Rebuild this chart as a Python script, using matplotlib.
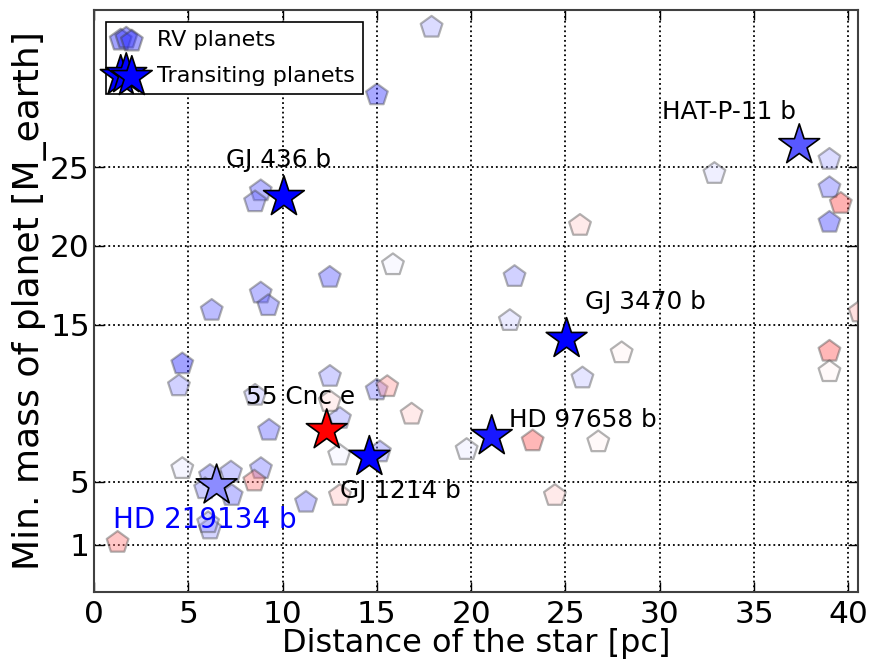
import numpy as np
import matplotlib
matplotlib.use('Agg')
import matplotlib.pyplot as plt
from matplotlib.colors import Normalize

# RV planets: distance [pc], min. mass [M_earth], colour value (-1 blue .. +1 red)
rv_dist = [17.9, 15.0, 8.84, 8.54, 6.24, 8.84, 9.24, 12.5, 15.85, 22.3,
           22.05, 27.98, 25.9, 32.9, 25.77, 39.0, 39.0, 39.6, 39.0, 39.0,
           39.0, 40.6, 23.26, 26.74, 24.44, 19.76, 16.84, 14.99, 15.55, 12.51,
           12.5, 13.04, 13.0, 15.16, 13.04, 11.24, 4.68, 4.5, 9.28, 4.68,
           6.15, 7.26, 8.85, 8.5, 7.3, 5.89, 6.15, 6.05, 1.25, 8.54]
rv_mass = [33.9, 29.6, 23.5, 22.8, 15.9, 17.0, 16.2, 18.0, 18.8, 18.05,
           15.25, 13.2, 11.6, 24.6, 21.3, 25.5, 23.7, 22.7, 21.5, 13.3,
           12.0, 15.8, 7.6, 7.54, 4.13, 7.05, 9.3, 10.84, 11.05, 11.7,
           10.1, 9.03, 6.7, 6.9, 4.13, 3.7, 12.5, 11.1, 8.28, 5.84,
           5.4, 5.62, 5.84, 5.05, 4.13, 4.56, 2.0, 2.4, 1.15, 10.5]
rv_color = [-0.35, -0.85, -0.7, -0.6, -0.65, -0.65, -0.65, -0.7, -0.05, -0.45,
            -0.2, 0.05, -0.25, -0.15, 0.2, -0.35, -0.6, 0.75, -0.8, 0.7,
            0.05, 0.3, 0.7, 0.05, 0.2, -0.1, 0.2, -0.55, 0.4, -0.45,
            0.15, -0.45, -0.05, -0.5, 0.25, -0.55, -0.9, -0.45, -0.65, -0.1,
            -0.6, -0.5, -0.55, 0.55, -0.6, -0.5, -0.4, -0.4, 0.55, -0.3]

# Transiting planets
tr_names = ['GJ 436 b', 'HAT-P-11 b', 'GJ 3470 b', 'HD 97658 b',
            '55 Cnc e', 'GJ 1214 b', 'HD 219134 b']
tr_dist = [10.07, 37.4, 25.06, 21.09, 12.34, 14.6, 6.5]
tr_mass = [23.1, 26.4, 14.08, 7.9, 8.28, 6.58, 4.77]
tr_color = [-1.0, -0.65, -1.0, -0.9, 1.0, -1.0, -0.45]

# label anchor (left, baseline) in data units
label_x = [7.0, 30.1, 26.03, 22.02, 8.04, 13.04, 1.0]
label_y = [25.0, 28.1, 16.0, 8.5, 9.95, 3.96, 2.1]
label_col = ['black', 'black', 'black', 'black', 'black', 'black', 'blue']
label_size = [17.8, 17.8, 17.8, 17.8, 17.8, 17.8, 20]

x_ticks = [0, 5, 10, 15, 20, 25, 30, 35, 40]
y_ticks = [1, 5, 15, 20, 25]

fig = plt.figure(figsize=(8.74, 6.63), dpi=100)
ax = fig.add_axes([0.1076, 0.1071, 0.8738, 0.8778])
cmap = plt.get_cmap('bwr')
norm = Normalize(-1, 1)

ax.scatter(rv_dist, rv_mass, c=rv_color, cmap=cmap, norm=norm, marker='p',
           s=270, alpha=0.4, edgecolors='0.25', linewidths=1.6, zorder=3)
ax.scatter(tr_dist, tr_mass, c=tr_color, cmap=cmap, norm=norm, marker='*',
           s=950, edgecolors='black', linewidths=1.2, zorder=4)

for n, lx, ly, lc, ls in zip(tr_names, label_x, label_y, label_col, label_size):
    ax.text(lx, ly, n, color=lc, fontsize=ls, ha='left', va='baseline', zorder=5)

# legend proxies
rv_h = ax.scatter([], [], marker='p', s=270, c=[cmap(norm(-0.8))], alpha=0.45,
                  edgecolors='0.25', linewidths=1.6)
tr_h = ax.scatter([], [], marker='*', s=950, c='blue', edgecolors='black',
                  linewidths=1.2)
leg = ax.legend([rv_h, tr_h], ['RV planets', 'Transiting planets'],
                loc='upper left', scatterpoints=3,
                scatteryoffsets=[0.375, 0.5, 0.3125], fontsize=16,
                fancybox=False, edgecolor='black', framealpha=1,
                handlelength=1.1, handletextpad=0.85, borderpad=0.35,
                labelspacing=0.72, borderaxespad=0.55)
leg.get_frame().set_linewidth(1.2)
leg.set_zorder(6)

ax.set_xlim(0, 40.5)
ax.set_ylim(-2, 35)
ax.set_xticks(x_ticks)
ax.set_yticks(y_ticks)
ax.grid(True, color='black', linestyle=':', linewidth=1.3)
ax.set_axisbelow(True)
ax.tick_params(direction='in', length=7, width=1, top=True, right=True,
               labelsize=22.5)
ax.tick_params(axis='x', pad=6)
ax.tick_params(axis='y', pad=3)
for sp in ax.spines.values():
    sp.set_color('0.25')
    sp.set_linewidth(1.5)

ax.set_xlabel('Distance of the star [pc]', fontsize=23, labelpad=-1)
ax.set_ylabel('Min. mass of planet [M_earth]', fontsize=26, labelpad=2)

fig.savefig('out.png', dpi=100)
